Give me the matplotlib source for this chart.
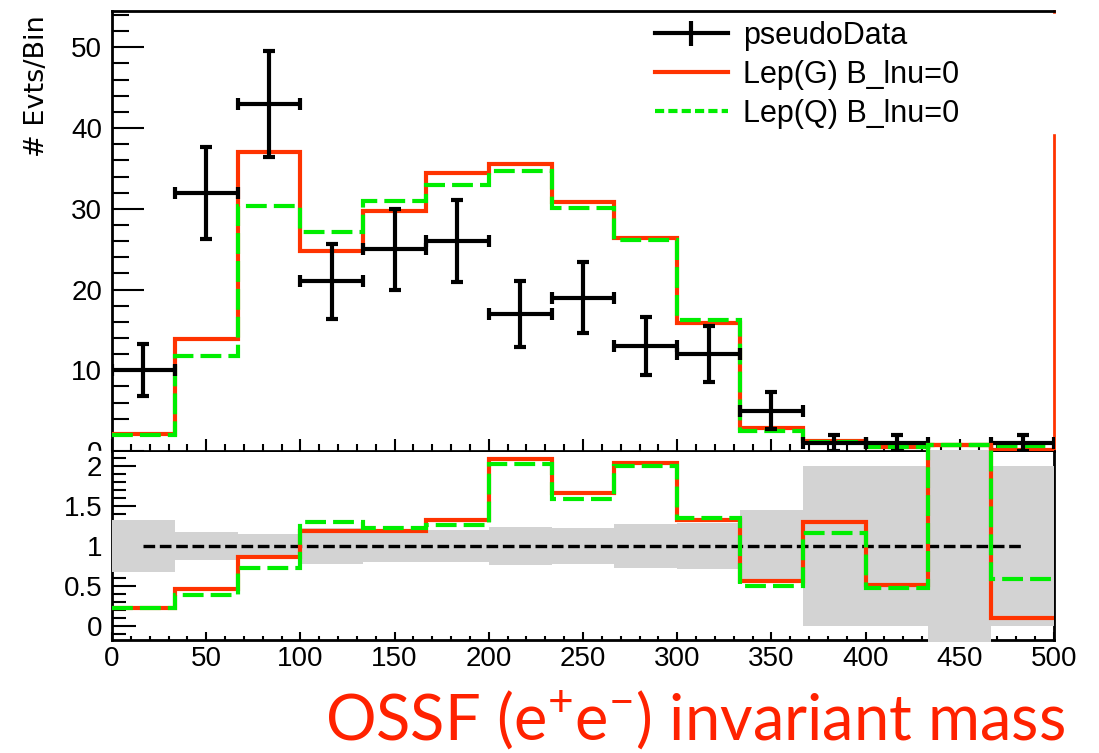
import numpy as np
import matplotlib
matplotlib.use('Agg')
import matplotlib.pyplot as plt
from matplotlib.ticker import MultipleLocator, FormatStrFormatter
from matplotlib.patches import Rectangle
from matplotlib.lines import Line2D

plt.rcParams['font.family'] = ['Liberation Sans', 'DejaVu Sans']
plt.rcParams['mathtext.fontset'] = 'custom'
plt.rcParams['mathtext.rm'] = 'Lato'

# 15 bins of invariant mass, 0-500
bin_edges = np.linspace(0, 500, 16)
bin_centers = 0.5 * (bin_edges[1:] + bin_edges[:-1])

# top panel: events per bin
data = [10, 32, 43, 21, 25, 26, 17, 19, 13, 12, 5, 1, 1, 0, 1]
data_err = [3.2, 5.7, 6.6, 4.6, 5.0, 5.1, 4.1, 4.4, 3.6, 3.5, 2.3, 1.0, 1.0, 0.0, 1.0]
lep_g = [2.1, 13.9, 37.0, 24.8, 29.7, 34.4, 35.6, 30.9, 26.4, 15.9, 2.8, 1.3, 0.5, 0.7, 0.1]
lep_q = [2.0, 11.8, 30.3, 27.1, 31.0, 33.0, 34.7, 30.1, 26.1, 16.2, 2.5, 1.16, 0.47, 0.7, 0.6]

# bottom panel: ratio MC / data and data uncertainty band
ratio_g = [0.23, 0.46, 0.865, 1.185, 1.185, 1.33, 2.09, 1.665, 2.04, 1.33, 0.56, 1.30, 0.51, 2.26, 0.094]
ratio_q = [0.23, 0.39, 0.73, 1.30, 1.23, 1.26, 2.02, 1.59, 2.0, 1.35, 0.50, 1.16, 0.47, 2.26, 0.59]
band_lo = [0.68, 0.82, 0.85, 0.78, 0.80, 0.80, 0.76, 0.77, 0.72, 0.71, 0.55, 0.0, 0.0, -0.2, 0.0]
band_hi = [1.32, 1.18, 1.15, 1.22, 1.20, 1.20, 1.24, 1.23, 1.28, 1.29, 1.45, 2.0, 2.0, 2.2, 2.0]

RED = '#ff3300'
GREEN = '#00ee00'
W, H = 1099, 753

fig = plt.figure(figsize=(W / 100, H / 100), dpi=100)
ax = fig.add_axes([112 / W, 1 - 451 / H, 942 / W, 440 / H])
axr = fig.add_axes([112 / W, 1 - 640 / H, 942 / W, 188 / H])
axr.set_zorder(2)

# ---- top panel ----
ax.stairs(lep_g, bin_edges, color=RED, lw=3, baseline=None, zorder=4)
ax.stairs(lep_q, bin_edges, color=GREEN, lw=3, ls=(0, (5, 1.7)), baseline=None, zorder=5)
d = np.array(data, dtype=float)
m = d > 0
ax.errorbar(bin_centers[m], d[m], xerr=(bin_edges[1] - bin_edges[0]) / 2,
            yerr=np.array(data_err)[m], fmt='none', ecolor='black',
            elinewidth=3, capsize=4, capthick=3, zorder=6)

ax.set_xlim(0, 500)
ax.set_ylim(0, 54.5)
ax.yaxis.set_major_locator(MultipleLocator(10))
ax.yaxis.set_minor_locator(MultipleLocator(2))
ax.yaxis.set_major_formatter(FormatStrFormatter('%g'))
ax.xaxis.set_major_locator(MultipleLocator(50))
ax.xaxis.set_minor_locator(MultipleLocator(10))
ax.tick_params(axis='y', which='major', direction='in', length=23, width=1.5,
               labelsize=20, pad=7)
ax.tick_params(axis='y', which='minor', direction='in', length=12, width=1.5)
ax.tick_params(axis='x', which='major', direction='in', length=9, width=1.5,
               labelbottom=False)
ax.tick_params(axis='x', which='minor', direction='in', length=5, width=1.5)
for s in ax.spines.values():
    s.set_linewidth(2)
ax.spines['right'].set_color(RED)

# white box behind the legend hides the upper part of the right frame
ax.add_patch(Rectangle((0.575, (451 - 133) / 440), 0.44, (133 - 14) / 440,
                       transform=ax.transAxes, color='white', zorder=3,
                       clip_on=False))
h_data = Line2D([], [], color='black', lw=3, marker='|', markersize=18,
                markeredgewidth=3)
h_g = Line2D([], [], color=RED, lw=3)
h_q = Line2D([], [], color=GREEN, lw=3, ls=(0, (2.2, 1)))
leg = ax.legend([h_data, h_g, h_q],
                ['pseudoData', 'Lep(G) B_lnu=0', 'Lep(Q) B_lnu=0'],
                loc='upper left', bbox_to_anchor=(0.576, 0.978), frameon=False,
                fontsize=22, handlelength=2.4, handletextpad=0.5,
                labelspacing=0.3, borderpad=0, borderaxespad=0)
leg.set_zorder(7)

fig.text(37 / W, 1 - 86 / H, '# Evts/Bin', rotation=90, ha='center', va='center',
         fontsize=19.5, family='DejaVu Sans')

# ---- ratio panel ----
axr.bar(bin_centers, np.array(band_hi) - np.array(band_lo), bottom=band_lo,
        width=bin_edges[1] - bin_edges[0], color='#d3d3d3', lw=0, zorder=3,
        clip_on=False)
axr.plot([bin_centers[0], bin_centers[-1]], [1, 1], color='black', lw=2.4,
         ls=(0, (3.5, 1.4)), zorder=4)
axr.stairs(ratio_g, bin_edges, color=RED, lw=3, baseline=None, zorder=5,
           clip_on=False)
axr.stairs(ratio_q, bin_edges, color=GREEN, lw=3, ls=(0, (5, 1.7)), baseline=None,
           zorder=6, clip_on=False)

axr.set_xlim(0, 500)
axr.set_ylim(-0.175, 2.175)
axr.yaxis.set_major_locator(MultipleLocator(0.5))
axr.yaxis.set_minor_locator(MultipleLocator(0.1))
axr.yaxis.set_major_formatter(FormatStrFormatter('%g'))
axr.xaxis.set_major_locator(MultipleLocator(50))
axr.xaxis.set_minor_locator(MultipleLocator(10))
axr.tick_params(axis='y', which='major', direction='in', length=17.5, width=1.5,
                labelsize=20, pad=7)
axr.tick_params(axis='y', which='minor', direction='in', length=10, width=1.5)
axr.tick_params(axis='x', which='major', direction='in', length=6, width=1.5,
                labelsize=20, pad=4)
axr.tick_params(axis='x', which='minor', direction='in', length=3, width=1.5)
axr.spines['top'].set_visible(False)
for s in axr.spines.values():
    s.set_linewidth(2)

# bottom pad hides the lower half of the top panel's "0" label
fig.add_artist(Rectangle((0, 1 - 462 / H), 110 / W, 11.5 / H,
                         transform=fig.transFigure, color='white', zorder=1))

fig.text(325 / W, 1 - 741 / H, r'OSSF (e$^{+}$e$^{-}$) invariant mass',
         color='#ff2200', fontsize=45.5, family='Lato', ha='left', va='baseline')

fig.savefig('out.png', dpi=100)
